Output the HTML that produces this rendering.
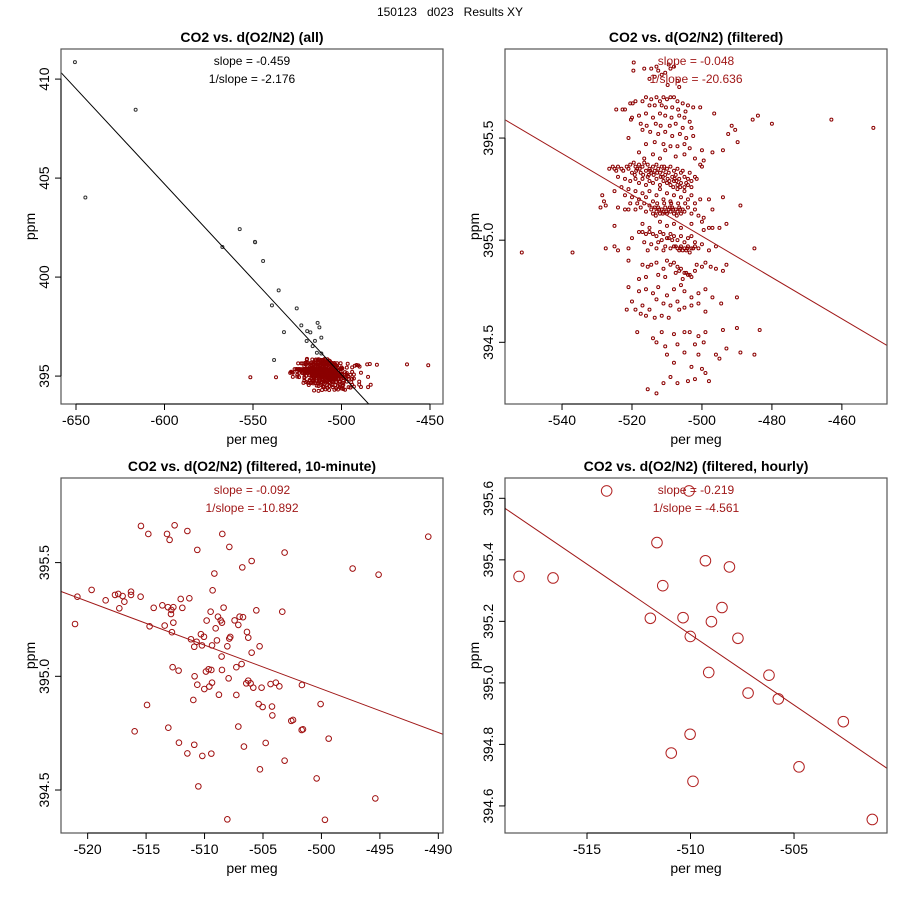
<!DOCTYPE html>
<html><head><meta charset="utf-8"><style>
html,body{margin:0;padding:0;background:#fff}
svg{display:block;font-family:"Liberation Sans",sans-serif}
</style></head><body>
<svg id="chart" width="900" height="900" viewBox="0 0 900 900">
<text x="450" y="16" text-anchor="middle" font-size="12" style="white-space:pre">150123&#160;&#160;&#160;d023&#160;&#160;&#160;Results XY</text>
</svg>
<script>
// ---- data ----
const allOutlierX = [-650.6,-616.3,-644.7,-557.5,-548.9,-548.8,-567.3,-544.3,-535.5,-539.3,-525.3,-522.7,-513.5,-512.5,-532.5,-519.4,-517.6,-511.4,-519.7,-515.0,-516.3,-513.9,-511.4,-538.1];
const allOutlierY = [410.86,408.45,404.02,402.42,401.78,401.76,401.52,400.81,399.33,398.57,398.42,397.56,397.69,397.46,397.22,397.27,397.21,396.94,396.77,396.78,396.51,396.18,396.14,395.81];
const filtPts = [
[-519.5,395.87],[-519.6,395.83],[-516.5,395.84],[-514.5,395.84],[-513,395.85],[-512.5,395.83],[-509.5,395.86],[-509,395.84],[-508,395.85],[-510.5,395.82],[-507,395.78],[-509.8,395.76],[-513.5,395.80],[-511.5,395.81],[-515,395.79],[-506.5,395.75],
[-524.5,395.64],[-522.7,395.64],[-522,395.64],[-520.5,395.67],[-519.8,395.67],[-519,395.68],[-517,395.68],[-516,395.70],[-514.5,395.69],[-513,395.70],[-512,395.68],[-511,395.70],[-510,395.69],[-509,395.70],[-508,395.70],[-507,395.68],[-505.5,395.67],[-504,395.66],[-502.5,395.65],[-500.5,395.65],[-515,395.66],[-513.5,395.66],[-511.5,395.66],[-510.3,395.65],[-508.5,395.65],[-506.8,395.64],[-504.7,395.63],[-520,395.60],[-518,395.61],[-516,395.62],[-514,395.60],[-512,395.62],[-510.5,395.61],[-508.7,395.60],[-506.5,395.61],[-505,395.60],[-503.5,395.58],[-520.3,395.59],[-517.5,395.57],[-515.8,395.56],[-513.2,395.57],[-511.8,395.56],[-509.2,395.56],[-507.5,395.57],[-505.5,395.55],[-503,395.55],[-517,395.54],[-514.8,395.53],[-512.5,395.52],[-510.5,395.53],[-508.5,395.51],[-506.3,395.52],[-504.5,395.50],[-502.5,395.51],[-521,395.50],[-516,395.47],[-513.5,395.48],[-511,395.47],[-509,395.46],[-507,395.46],[-505,395.47],[-503.5,395.45],[-500,395.44],[-497,395.43],[-494,395.44],[-496.5,395.62],[-491.5,395.56],[-490.5,395.54],[-492.5,395.52],[-489.8,395.48],[-485.5,395.59],[-484,395.61],[-480,395.57],[-463,395.59],[-451,395.55],
[-518,395.43],[-514,395.42],[-510.5,395.44],[-507.5,395.41],[-505,395.42],[-502,395.40],[-499.5,395.39],[-516.5,395.40],[-512,395.40],
[-526.5,395.35],[-525.5,395.36],[-525,395.35],[-524.5,395.34],[-524,395.36],[-523,395.35],[-522.5,395.34],[-521.5,395.36],[-521,395.35],[-520.5,395.37],[-520,395.33],[-519.5,395.38],[-519,395.36],[-518.5,395.35],[-518,395.37],[-517.5,395.33],[-517,395.36],[-516.5,395.38],[-516,395.34],[-515.5,395.37],[-515,395.35],[-514.5,395.33],[-514,395.36],[-513.5,395.34],[-513,395.37],[-512.5,395.35],[-512,395.33],[-511.5,395.36],[-511,395.34],[-510.5,395.32],[-510,395.35],[-509.5,395.33],[-509,395.36],[-508.5,395.31],[-508,395.34],[-507.5,395.32],[-507,395.35],[-506.5,395.30],[-506,395.33],[-505,395.31],[-504,395.30],[-503,395.29],[-502,395.31],[-500.5,395.37],[-500,395.36],[-524,395.31],[-522,395.30],[-520.5,395.29],[-519,395.30],[-518,395.28],[-517,395.30],[-516,395.27],[-515,395.29],[-514,395.28],[-513,395.30],[-512,395.27],[-511,395.29],[-510,395.28],[-509,395.27],[-508,395.29],[-507,395.27],[-506,395.28],[-505,395.26],[-504,395.27],[-503,395.26],[-515.5,395.31],[-513.8,395.32],[-511.8,395.31],[-509.8,395.30],[-507.8,395.30],[-505.5,395.34],[-503.5,395.33],[-501.5,395.30],
[-518.8,395.34],[-517.8,395.35],[-516.8,395.32],[-514.8,395.34],[-512.8,395.33],[-510.8,395.36],[-509.3,395.29],[-507.3,395.29],[-506.2,395.26],[-504.5,395.28],[-519.2,395.32],[-515.2,395.32],[-511.2,395.31],[-508.2,395.26],
[-525,395.24],[-523,395.26],[-522,395.22],[-521,395.25],[-520,395.21],[-519,395.24],[-518,395.20],[-517,395.23],[-516,395.21],[-515,395.24],[-514,395.19],[-513,395.22],[-512,395.25],[-511,395.20],[-510,395.23],[-509,395.19],[-508,395.22],[-507,395.25],[-506,395.21],[-505,395.24],[-504,395.20],[-503,395.22],[-502,395.18],[-500.5,395.20],[-498,395.20],[-494,395.21],[-489,395.17],[-528.5,395.22],[-528,395.19],[-529,395.16],[-527.5,395.17],[-524,395.16],[-522,395.15],[-521,395.15],[-519,395.15],[-517.5,395.16],[-516,395.14],[-515,395.17],[-514.5,395.15],[-514,395.13],[-513.5,395.16],[-513,395.14],[-512.5,395.16],[-512,395.13],[-511.5,395.15],[-511,395.14],[-510.5,395.16],[-510,395.13],[-509.5,395.15],[-509,395.14],[-508.5,395.16],[-508,395.13],[-507.5,395.15],[-507,395.14],[-506.5,395.16],[-506,395.13],[-505.5,395.15],[-505,395.14],[-504,395.16],[-503,395.13],[-502,395.15],[-501,395.12],[-499.5,395.11],[-497,395.15],[-493,395.08],[-495,395.06],[-520.5,395.18],[-518.5,395.18],[-516.5,395.18],[-512.8,395.18],[-510.8,395.18],[-508.8,395.18],[-506.8,395.18],[-504.8,395.18],
[-512.2,395.15],[-510.2,395.14],[-509.2,395.16],[-508.2,395.15],[-511.2,395.13],[-507.2,395.12],[-513.2,395.12],[-506.2,395.15],
[-525,395.07],[-517,395.08],[-515,395.06],[-512,395.09],[-510,395.07],[-508,395.08],[-506,395.06],[-503,395.08],[-500,395.09],[-499.5,395.05],[-498,395.06],[-497,395.06],
[-520,395.01],[-518,395.04],[-517,395.04],[-516,395.03],[-515,395.04],[-514,395.03],[-513,395.02],[-512,395.04],[-511,395.03],[-510,395.01],[-509,395.03],[-508,395.02],[-507,395.00],[-506,395.02],[-505,394.99],[-504,395.01],[-503,395.02],[-502,394.99],[-516.5,394.99],[-514.5,394.98],[-512.5,394.99],[-510.5,394.97],[-509,394.96],[-508,394.97],[-507,394.96],[-506,394.97],[-505,394.96],[-504,394.97],[-503,394.96],[-502,394.97],[-501,394.96],[-506.5,394.95],[-505.5,394.95],[-504.5,394.95],[-503.5,394.94],[-500,394.98],[-498,394.95],[-513,394.96],[-511,394.95],[-515.5,394.95],[-527.5,394.96],[-525,394.97],[-524,394.95],[-521,394.96],[-551.5,394.94],[-537,394.94],[-485,394.96],[-496,394.97],
[-507.5,394.97],[-506.2,394.96],[-504.2,394.96],[-502.5,394.96],[-508.5,395.00],[-509.5,395.01],[-511.5,395.00],
[-521,394.90],[-517,394.88],[-515.5,394.87],[-514.5,394.88],[-513,394.89],[-511,394.86],[-510,394.90],[-509,394.88],[-508,394.89],[-507,394.87],[-506,394.86],[-505,394.84],[-504,394.83],[-503,394.82],[-502,394.85],[-500,394.87],[-499,394.89],[-497.5,394.87],[-496,394.86],[-494,394.85],[-493,394.88],[-512.5,394.83],[-510.5,394.82],[-507.5,394.84],[-505.5,394.81],[-516,394.82],[-518,394.81],
[-504.5,394.84],[-503.5,394.83],[-506.5,394.85],[-501.5,394.88],
[-521,394.77],[-518,394.75],[-516,394.76],[-514,394.74],[-512.5,394.77],[-510,394.73],[-508,394.76],[-506,394.78],[-505,394.75],[-503,394.72],[-501,394.74],[-499,394.76],[-497,394.72],[-494.5,394.69],[-490,394.72],[-520,394.70],[-517,394.68],[-515,394.66],[-513,394.71],[-511,394.69],[-509,394.68],[-507,394.70],[-505,394.67],[-503,394.68],[-501,394.69],[-499,394.65],[-517.5,394.64],[-516,394.63],[-513.5,394.62],[-511.5,394.63],[-521.5,394.66],[-519,394.66],[-509.5,394.62],[-506.5,394.66],
[-518.5,394.55],[-514,394.52],[-511.5,394.55],[-508,394.54],[-505,394.55],[-503.5,394.55],[-501,394.53],[-499,394.55],[-494,394.56],[-490,394.57],[-483.5,394.56],[-513,394.50],[-510.5,394.48],[-507,394.49],[-502,394.49],[-499.5,394.50],[-493,394.47],[-489,394.45],[-485,394.44],[-510,394.44],[-505,394.45],[-501,394.44],[-496,394.44],[-495,394.42],[-508,394.40],[-503,394.38],[-500,394.37],[-499,394.35],[-509,394.33],[-507,394.30],[-504,394.31],[-502,394.32],[-498,394.31],[-511,394.30],[-515.5,394.27],[-513,394.25]
];
const tenMinX = [-515.44,-514.81,-513.21,-512.56,-512.99,-511.47,-510.62,-508.48,-507.88,-506.77,-505.97,-503.15,-509.16,-497.33,-495.11,-490.86,-509.31,-521.08,-520.88,-519.66,-518.46,-517.66,-517.38,-517.01,-516.86,-517.29,-516.29,-516.29,-515.47,-514.35,-513.61,-513.13,-512.67,-512.84,-512.87,-512.04,-511.30,-511.90,-514.70,-513.41,-512.67,-512.79,-511.16,-510.68,-510.88,-510.31,-510.05,-510.22,-509.82,-509.48,-509.05,-508.85,-508.62,-508.51,-508.37,-508.94,-509.36,-508.54,-508.05,-507.88,-507.80,-507.43,-507.11,-507.00,-506.71,-506.37,-506.26,-505.57,-505.29,-505.97,-503.35,-506.83,-507.28,-508.51,-509.42,-509.65,-509.88,-512.22,-512.73,-510.85,-510.62,-510.02,-509.59,-509.36,-507.94,-508.77,-507.28,-506.43,-506.26,-506.06,-505.83,-505.12,-504.35,-503.90,-503.60,-501.67,-510.96,-514.92,-505.37,-505.03,-504.23,-504.20,-502.58,-502.43,-507.11,-501.69,-501.58,-500.07,-499.38,-515.98,-513.10,-512.19,-510.88,-511.47,-510.19,-509.42,-506.63,-504.77,-503.15,-505.26,-500.41,-510.53,-495.39,-508.05,-499.70];
const tenMinY = [395.661,395.626,395.626,395.664,395.600,395.639,395.556,395.626,395.569,395.479,395.507,395.544,395.452,395.474,395.447,395.614,395.378,395.230,395.350,395.380,395.334,395.358,395.362,395.353,395.328,395.299,395.372,395.358,395.350,395.301,395.312,395.304,395.304,395.292,395.274,395.340,395.343,395.301,395.220,395.223,395.236,395.194,395.163,395.152,395.130,395.185,395.174,395.136,395.245,395.284,395.211,395.262,395.246,395.236,395.302,395.158,395.136,395.087,395.132,395.166,395.173,395.246,395.226,395.262,395.260,395.195,395.170,395.290,395.132,395.104,395.284,395.054,395.040,395.028,395.028,395.031,395.021,395.025,395.040,395.000,394.963,394.944,394.955,394.972,394.991,394.919,394.918,394.969,394.981,394.969,394.950,394.950,394.966,394.972,394.956,394.962,394.896,394.874,394.878,394.865,394.867,394.828,394.804,394.808,394.779,394.764,394.767,394.878,394.726,394.758,394.774,394.708,394.699,394.661,394.650,394.660,394.691,394.707,394.629,394.591,394.551,394.516,394.463,394.371,394.369];
const hourlyX = [-518.28,-516.64,-514.05,-511.62,-511.34,-511.94,-510.36,-510.07,-510.01,-509.28,-508.99,-508.48,-508.12,-507.71,-509.12,-507.22,-506.21,-505.76,-502.62,-510.02,-510.93,-509.88,-504.76,-501.22];
const hourlyY = [395.346,395.341,395.624,395.456,395.316,395.210,395.212,395.624,395.151,395.397,395.199,395.245,395.377,395.145,395.034,394.967,395.025,394.948,394.874,394.833,394.772,394.680,394.727,394.556];
// regression lines: [slope (ppm per per-meg), value at refX, refX]
const fitAll = [-0.0963, 395.07, -500];
const fitFilt = [-0.01012, 395.121, -510];
const fit10 = [-0.01921, 395.137, -510];
const fitHr = [-0.0458, 395.157, -510];
const xTicksTL = [-650,-600,-550,-500,-450];
const yTicksTL = [395,400,405,410];
const xTicksTR = [-540,-520,-500,-480,-460];
const yTicksTR = [394.5,395.0,395.5];
const xTicksBL = [-520,-515,-510,-505,-500,-495,-490];
const yTicksBL = [394.5,395.0,395.5];
const xTicksBR = [-515,-510,-505];
const yTicksBR = [394.6,394.8,395.0,395.2,395.4,395.6];
const slopeTexts = [["slope = -0.459","1/slope = -2.176"],["slope = -0.048","1/slope = -20.636"],["slope = -0.092","1/slope = -10.892"],["slope = -0.219","1/slope = -4.561"]];

const NS='http://www.w3.org/2000/svg';
const svg=document.getElementById('chart');
const RED='#8b0000';
function mk(tag,attrs,parent){const e=document.createElementNS(NS,tag);for(const k in attrs)e.setAttribute(k,attrs[k]);(parent||svg).appendChild(e);return e;}

function panel(cfg){
  const g=mk('g',{});
  
  
  const L=cfg.box[0],T=cfg.box[1],R=cfg.box[2],B=cfg.box[3];
  const sx=v=>L+(v-cfg.xd[0])/(cfg.xd[1]-cfg.xd[0])*(R-L);
  const sy=v=>B-(v-cfg.yd[0])/(cfg.yd[1]-cfg.yd[0])*(B-T);
  const cx=(L+R)/2;
  const t=mk('text',{x:cx,y:T-7,'text-anchor':'middle','font-size':14,'font-weight':'bold'},g);t.textContent=cfg.title;
  
  
  const clip='clip-'+cfg.name;
  const cp=mk('clipPath',{id:clip},g);mk('rect',{x:L,y:T,width:R-L,height:B-T},cp);
  const pts=mk('g',{'clip-path':'url(#'+clip+')'},g);
  
  
  cfg.series.forEach(s=>{
    for(let i=0;i<s.x.length;i++){
      const c=mk('circle',{cx:sx(s.x[i]),cy:sy(s.y[i]),r:s.r,fill:'none',stroke:s.color,'stroke-width':s.sw||1},pts);
      
      
    }
  });
  const f=cfg.fit;const x0=cfg.xd[0],x1=cfg.xd[1];
  const yv=x=>f[1]+f[0]*(x-f[2]);
  const ln=mk('line',{x1:sx(x0),y1:sy(yv(x0)),x2:sx(x1),y2:sy(yv(x1)),stroke:cfg.lineColor,'stroke-width':1},pts);
  
  
  const bx=mk('rect',{x:L,y:T,width:R-L,height:B-T,fill:'none',stroke:'#555','stroke-width':1.2},g);
  
  
  cfg.slope.forEach((s,i)=>{const e=mk('text',{x:cx,y:T+16+i*18,'text-anchor':'middle','font-size':12,fill:cfg.textColor},g);e.textContent=s;
    
    });
  const xa=mk('g',{},g);
  
  
  mk('line',{x1:sx(cfg.xt[0]),y1:B,x2:sx(cfg.xt[cfg.xt.length-1]),y2:B,stroke:'#000'},xa);
  cfg.xt.forEach(v=>{mk('line',{x1:sx(v),y1:B,x2:sx(v),y2:B+6,stroke:'#000'},xa);
    const e=mk('text',{x:sx(v),y:B+21,'text-anchor':'middle','font-size':14},xa);e.textContent=v;
    
    });
  const xl=mk('text',{x:cx,y:B+40,'text-anchor':'middle','font-size':14},g);xl.textContent='per meg';
  
  
  const ya=mk('g',{},g);
  
  
  mk('line',{x1:L,y1:sy(cfg.yt[0]),x2:L,y2:sy(cfg.yt[cfg.yt.length-1]),stroke:'#000'},ya);
  cfg.yt.forEach(v=>{mk('line',{x1:L,y1:sy(v),x2:L-6,y2:sy(v),stroke:'#000'},ya);
    const e=mk('text',{x:0,y:0,'text-anchor':'middle','font-size':14,transform:`translate(${L-12},${sy(v)}) rotate(-90)`},ya);e.textContent=v.toFixed(cfg.yDec);
    
    });
  const yl=mk('text',{x:0,y:0,'text-anchor':'middle','font-size':14,transform:`translate(${L-26},${(T+B)/2}) rotate(-90)`},g);yl.textContent='ppm';
  
  
}
const fX=filtPts.map(p=>p[0]), fY=filtPts.map(p=>p[1]);
panel({name:'panel-all',box:[61,49,443,404],xd:[-658.47,-442.66],yd:[393.59,411.52],title:'CO2 vs. d(O2/N2) (all)',
  series:[{x:allOutlierX,y:allOutlierY,r:1.5,color:'#333'},{x:fX,y:fY,r:1.5,color:RED}],fit:fitAll,lineColor:'#000',textColor:'#000',
  slope:slopeTexts[0],xt:xTicksTL,yt:yTicksTL,yDec:0});
panel({name:'panel-filtered',box:[505,49,887,404],xd:[-556.3,-447.1],yd:[394.198,395.936],title:'CO2 vs. d(O2/N2) (filtered)',
  series:[{x:fX,y:fY,r:1.5,color:RED}],fit:fitFilt,lineColor:'#a01818',textColor:'#a01818',
  slope:slopeTexts[1],xt:xTicksTR,yt:yTicksTR,yDec:1});
panel({name:'panel-10-minute',box:[61,478,443,833],xd:[-522.28,-489.6],yd:[394.311,395.872],title:'CO2 vs. d(O2/N2) (filtered, 10-minute)',
  series:[{x:tenMinX,y:tenMinY,r:2.8,color:'#a01010'}],fit:fit10,lineColor:'#a01818',textColor:'#a01818',
  slope:slopeTexts[2],xt:xTicksBL,yt:yTicksBL,yDec:1});
panel({name:'panel-hourly',box:[505,478,887,833],xd:[-518.96,-500.51],yd:[394.512,395.666],title:'CO2 vs. d(O2/N2) (filtered, hourly)',
  series:[{x:hourlyX,y:hourlyY,r:5.3,color:'#b22222'}],fit:fitHr,lineColor:'#a01818',textColor:'#a01818',
  slope:slopeTexts[3],xt:xTicksBR,yt:yTicksBR,yDec:1});
</script>
</body></html>
